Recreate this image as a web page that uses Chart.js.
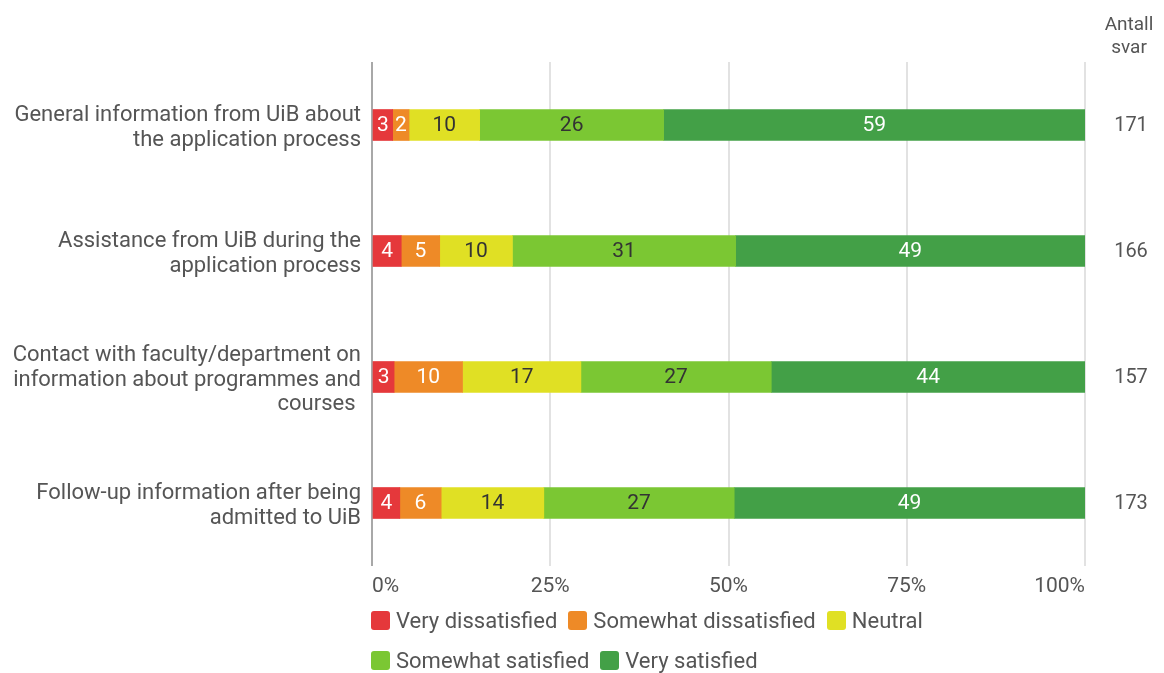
<!DOCTYPE html>
<html>
<head>
<meta charset="utf-8">
<script src="https://cdn.jsdelivr.net/npm/chart.js@4/dist/chart.umd.min.js"></script>
<style>
  html, body { margin: 0; padding: 0; background: #fff; }
  #wrap { position: relative; width: 1164px; height: 673px; }
  #legend { position: absolute; left: 371px; top: 606px; width: 580px; display: flex; flex-wrap: wrap;
            font-family: Roboto, sans-serif; font-size: 22px; color: #555; }
  .item { display: flex; align-items: center; height: 28px; margin: 0 11px 12px 0; }
  .box { width: 19px; height: 19px; border-radius: 3px; margin-right: 6px; }
</style>
</head>
<body>
<div id="wrap">
  <canvas id="c" width="1164" height="673"></canvas>
  <div id="legend"></div>
</div>
<script>
const categories = [
  ['General information from UiB about', 'the application process'],
  ['Assistance from UiB during the', 'application process'],
  ['Contact with faculty/department on', 'information about programmes and', 'courses '],
  ['Follow-up information after being', 'admitted to UiB']
];
const seriesNames = ['Very dissatisfied', 'Somewhat dissatisfied', 'Neutral', 'Somewhat satisfied', 'Very satisfied'];
const veryDissatisfied     = [2.9, 4.1, 3.1, 3.9];
const somewhatDissatisfied = [2.3, 5.4, 9.6, 5.8];
const neutral              = [9.9, 10.2, 16.6, 14.4];
const somewhatSatisfied    = [25.8, 31.3, 26.7, 26.7];
const verySatisfied        = [59.1, 49.0, 44.0, 49.2];
const responses = [171, 166, 157, 173];
const responsesTitle = ['Antall', 'svar'];
const xTickLabels = ['0%', '25%', '50%', '75%', '100%'];

const colors = ['#e5383b', '#ee8a27', '#e0e024', '#7bc733', '#43a047'];
const labelColors = ['#fff', '#fff', '#333', '#333', '#fff'];
const seriesValues = [veryDissatisfied, somewhatDissatisfied, neutral, somewhatSatisfied, verySatisfied];

const FONT = 'Roboto, sans-serif';

const barLabels = {
  id: 'barLabels',
  afterDatasetsDraw(chart) {
    const ctx = chart.ctx;
    ctx.save();
    ctx.font = '21px ' + FONT;
    ctx.textAlign = 'center';
    ctx.textBaseline = 'middle';
    chart.data.datasets.forEach((ds, i) => {
      const meta = chart.getDatasetMeta(i);
      meta.data.forEach((el, j) => {
        const v = ds.data[j];
        ctx.fillStyle = labelColors[i];
        ctx.fillText(String(Math.round(v)), (el.x + el.base) / 2, el.y + 1);
      });
    });
    ctx.restore();
  }
};

const responseColumn = {
  id: 'responseColumn',
  afterDraw(chart) {
    const ctx = chart.ctx;
    const y = chart.scales.y;
    ctx.save();
    ctx.fillStyle = '#555';
    ctx.textAlign = 'center';
    ctx.textBaseline = 'middle';
    const cx = 1130;
    ctx.font = '19px ' + FONT;
    responsesTitle.forEach((t, k) => ctx.fillText(t, cx - 1, 25 + k * 23));
    ctx.font = '20px ' + FONT;
    responses.forEach((n, j) => ctx.fillText(String(n), cx + 1, y.getPixelForValue(j) + 1));
    ctx.restore();
  }
};

const chart = new Chart(document.getElementById('c'), {
  type: 'bar',
  data: {
    labels: categories,
    datasets: seriesNames.map((name, i) => ({
      label: name,
      data: seriesValues[i],
      backgroundColor: colors[i],
      borderWidth: 0,
      barThickness: 31
    }))
  },
  options: {
    indexAxis: 'y',
    responsive: false,
    animation: false,
    layout: { padding: { top: 62, right: 79, bottom: 67, left: 0 } },
    plugins: { legend: { display: false }, tooltip: { enabled: false } },
    scales: {
      x: {
        stacked: true,
        min: 0, max: 100,
        ticks: {
          stepSize: 25,
          padding: 8,
          align: 'inner',
          color: '#555',
          font: { family: FONT, size: 21 },
          callback: (v) => xTickLabels[Math.round(v / 25)]
        },
        grid: {
          drawTicks: false,
          lineWidth: 2,
          color: (c) => c.index === 0 ? '#a8a8a8' : '#e2e2e2'
        },
        border: { display: false },
        afterFit: (s) => { s.height = 40; }
      },
      y: {
        stacked: true,
        ticks: {
          padding: 11,
          labelOffset: 3,
          color: '#555',
          font: { family: FONT, size: 22, lineHeight: '24.5px' }
        },
        grid: { display: false, drawTicks: false },
        border: { display: false },
        afterFit: (s) => { s.width = 372; }
      }
    }
  },
  plugins: [barLabels, responseColumn]
});

const legend = document.getElementById('legend');
chart.data.datasets.forEach((ds) => {
  const item = document.createElement('div');
  item.className = 'item';
  const box = document.createElement('span');
  box.className = 'box';
  box.style.background = ds.backgroundColor;
  const txt = document.createElement('span');
  txt.textContent = ds.label;
  item.appendChild(box);
  item.appendChild(txt);
  legend.appendChild(item);
});
</script>
</body>
</html>
